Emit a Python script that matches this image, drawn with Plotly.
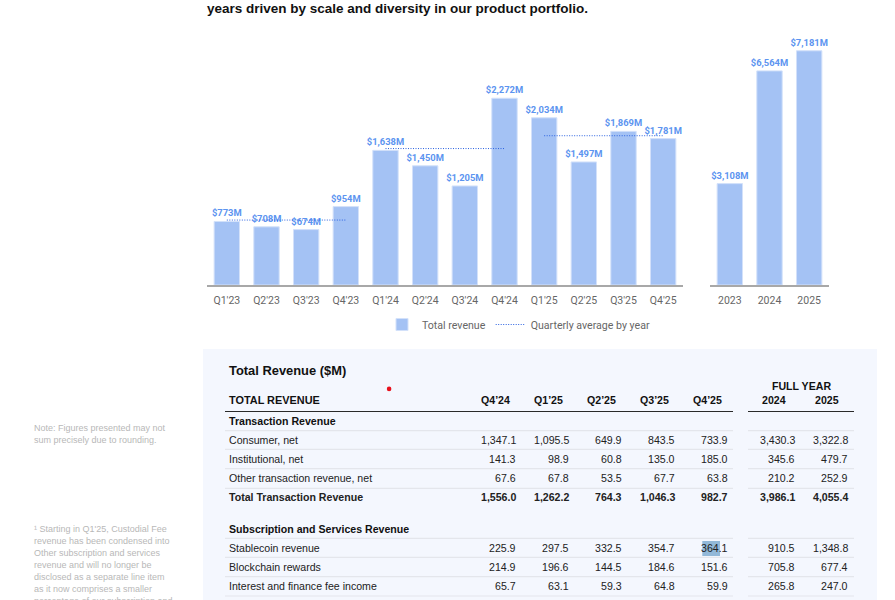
import plotly.graph_objects as go

W, H = 895, 600
quarters = ["Q1'23","Q2'23","Q3'23","Q4'23","Q1'24","Q2'24","Q3'24","Q4'24","Q1'25","Q2'25","Q3'25","Q4'25"]
quarter_rev = [773,708,674,954,1638,1450,1205,2272,2034,1497,1869,1781]
years = ["2023","2024","2025"]
year_rev = [3108,6564,7181]
avg_2023_x = ["Q1'23","Q4'23"]; avg_2023 = [790,790]
avg_2024_x = ["Q1'24","Q4'24"]; avg_2024 = [1660,1660]
avg_2025_x = ["Q1'25","Q4'25"]; avg_2025 = [1816,1816]

table_cols = ["Q4’24","Q1’25","Q2’25","Q3’25","Q4’25","2024","2025"]
row_consumer = ["Consumer, net","1,347.1","1,095.5","649.9","843.5","733.9","3,430.3","3,322.8"]
row_inst = ["Institutional, net","141.3","98.9","60.8","135.0","185.0","345.6","479.7"]
row_other = ["Other transaction revenue, net","67.6","67.8","53.5","67.7","63.8","210.2","252.9"]
row_total = ["Total Transaction Revenue","1,556.0","1,262.2","764.3","1,046.3","982.7","3,986.1","4,055.4"]
row_stable = ["Stablecoin revenue","225.9","297.5","332.5","354.7","364.1","910.5","1,348.8"]
row_chain = ["Blockchain rewards","214.9","196.6","144.5","184.6","151.6","705.8","677.4"]
row_interest = ["Interest and finance fee income","65.7","63.1","59.3","64.8","59.9","265.8","247.0"]

note1 = ["Note: Figures presented may not","sum precisely due to rounding."]
note2 = ["¹ Starting in Q1'25, Custodial Fee","revenue has been condensed into","Other subscription and services",
         "revenue and will no longer be","disclosed as a separate line item","as it now comprises a smaller",
         "percentage of our subscription and"]

BAR = "#a4c2f4"; EDGE = "#d3e1fa"; LAB = "#5c94f0"; LINE = "#2b62e0"; TICK = "#666666"
CHART_FONT = "Roboto"; TAB_FONT = "Liberation Sans"
px = lambda x: x / W
py = lambda y: 1 - y / H

fig = go.Figure()
fig.add_bar(x=quarters, y=quarter_rev, name="Total revenue", marker=dict(color=BAR, line=dict(color=EDGE, width=1)),
            text=[f"${v:,}M" for v in quarter_rev], textposition="outside", cliponaxis=False, constraintext="none",
            textfont=dict(family=CHART_FONT, size=9.4, color=LAB, weight=700), xaxis="x", yaxis="y")
fig.add_bar(x=years, y=year_rev, showlegend=False, marker=dict(color=BAR, line=dict(color=EDGE, width=1)),
            text=[f"${v:,}M" for v in year_rev], textposition="outside", cliponaxis=False, constraintext="none",
            textfont=dict(family=CHART_FONT, size=9.4, color=LAB, weight=700), xaxis="x2", yaxis="y2")
for i, (xs, ys) in enumerate([(avg_2023_x, avg_2023), (avg_2024_x, avg_2024), (avg_2025_x, avg_2025)]):
    fig.add_scatter(x=xs, y=ys, mode="lines", name="Quarterly average by year", showlegend=i == 0,
                    line=dict(color=LINE, width=1, dash="1px,1.5px"), xaxis="x", yaxis="y", cliponaxis=False)

shapes = [dict(type="rect", xref="paper", yref="paper", x0=px(203), x1=px(877), y0=py(349), y1=py(600),
               fillcolor="#f4f7fe", line_width=0, layer="below"),
          dict(type="rect", xref="paper", yref="paper", x0=px(702.3), x1=px(720), y0=py(541), y1=py(556),
               fillcolor="#92b8d8", line_width=0, layer="below"),
          dict(type="circle", xref="paper", yref="paper", x0=px(386.8), x1=px(391.4), y0=py(391.2), y1=py(386.6),
               fillcolor="#e8111c", line_width=0, layer="above")]
def hline(y, color, w):
    for a, b in [(225, 733), (748, 854)]:
        shapes.append(dict(type="line", xref="paper", yref="paper", x0=px(a), x1=px(b), y0=py(y), y1=py(y),
                           line=dict(color=color, width=w), layer="below"))
hline(411.5, "#2a2a2a", 1.2)
for y in [430.7, 449.4, 468.7, 488.3, 538.3, 557.3, 576.7, 596]:
    hline(y, "#e4e6ec", 1.2)

ann = []
def text(x, y, s, size=11, bold=False, color="#1a1a1a", anchor="left", family=TAB_FONT):
    shift = {"left": -2, "right": 1, "center": 0}[anchor]
    ann.append(dict(xref="paper", yref="paper", x=px(x), y=py(y), text=s, showarrow=False, xanchor=anchor,
                    yanchor="middle", align=anchor, xshift=shift, yshift=1, font=dict(family=family, size=size, color=color,
                    weight=700 if bold else 400)))

text(207, 9, "years driven by scale and diversity in our product portfolio.", size=13.5, bold=True, color="#111111")
text(229, 371.5, "Total Revenue ($M)", size=12.9, bold=True, color="#111111")
text(229, 400.5, "TOTAL REVENUE", size=10.9, bold=True, color="#111111")
text(801, 386.5, "FULL YEAR", size=10.6, bold=True, color="#111111", anchor="center")
col_center = [495, 548, 601, 654, 707, 774, 827]
col_right = [517, 569.7, 622.7, 676, 728.5, 796, 849]
for c, s in zip(col_center, table_cols):
    text(c, 400.5, s, size=10.6, bold=True, color="#111111", anchor="center")
text(229, 421.5, "Transaction Revenue", size=10.6, bold=True, color="#111111")
text(229, 529.5, "Subscription and Services Revenue", size=10.6, bold=True, color="#111111")
for y, row, bold in [(440.5, row_consumer, False), (459.5, row_inst, False), (478.5, row_other, False), (497.5, row_total, True),
                     (548.5, row_stable, False), (567.5, row_chain, False), (586.5, row_interest, False)]:
    text(229, y, row[0], size=10.6, bold=bold, color="#222222")
    for r, s in zip(col_right, row[1:]):
        text(r, y, s, size=10.6, bold=bold, color="#222222", anchor="right")
for y, s in zip([429, 441], note1):
    text(34, y, s, size=9, color="#b8b8b8")
for y, s in zip([530, 542, 554, 566, 578, 590, 602], note2):
    text(34, y, s, size=9, color="#b8b8b8")

axis_common = dict(showgrid=False, zeroline=False, showline=True, linecolor="#a8a8a8", linewidth=1.5, ticks="",
                   ticklabelstandoff=5, tickfont=dict(family=CHART_FONT, size=10.5, color=TICK))
y_common = dict(showgrid=False, zeroline=False, showline=False, showticklabels=False, domain=[py(285), 1])
fig.update_layout(
    width=W, height=H, margin=dict(l=0, r=0, t=0, b=0), paper_bgcolor="white", plot_bgcolor="white",
    bargap=0.36, barmode="group", shapes=shapes, annotations=ann,
    xaxis=dict(domain=[px(207), px(683)], anchor="y", categoryorder="array", categoryarray=quarters, **axis_common),
    xaxis2=dict(domain=[px(710), px(829)], anchor="y2", categoryorder="array", categoryarray=years, **axis_common),
    yaxis=dict(range=[0, 285 / 0.0822], **y_common),
    yaxis2=dict(range=[0, 285 / 0.03262], **y_common),
    legend=dict(orientation="h", x=px(382), y=py(310), xanchor="left", yanchor="top", bgcolor="rgba(0,0,0,0)",
                font=dict(family=CHART_FONT, size=10.6, color=TICK), traceorder="normal"),
)
fig.write_html("out.html", config={"displayModeBar": False},
               post_script="document.body.style.margin='0';document.body.style.overflow='hidden';")
